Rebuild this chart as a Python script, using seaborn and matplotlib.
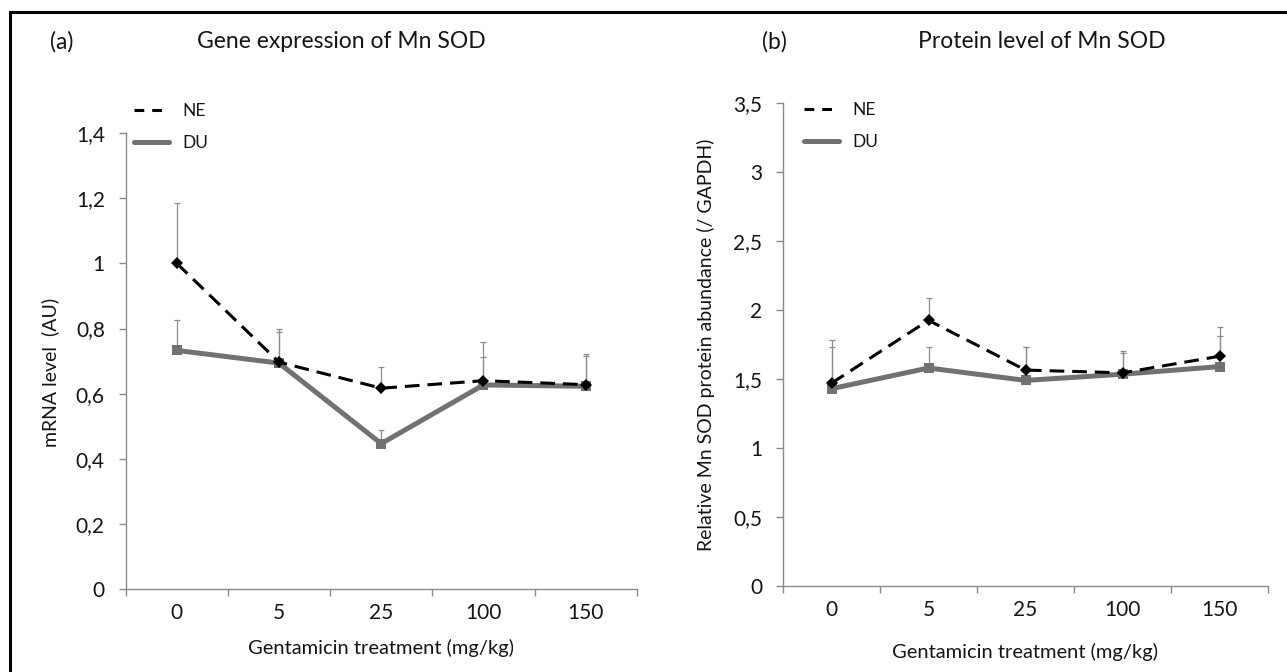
import numpy as np
import pandas as pd
import matplotlib
matplotlib.use("Agg")
import matplotlib.pyplot as plt
from matplotlib.lines import Line2D
from matplotlib.patches import Rectangle
from matplotlib.ticker import FuncFormatter, FixedLocator
import seaborn as sns

# ---- data ----
doses = ["0", "5", "25", "100", "150"]

mrna_ne = [1.0, 0.697, 0.617, 0.64, 0.628]
mrna_ne_err = [0.185, 0.103, 0.066, 0.118, 0.094]
mrna_du = [0.733, 0.694, 0.447, 0.627, 0.623]
mrna_du_err = [0.094, 0.096, 0.041, 0.085, 0.092]

prot_ne = [1.47, 1.925, 1.565, 1.545, 1.665]
prot_ne_err = [0.31, 0.165, 0.17, 0.155, 0.21]
prot_du = [1.43, 1.58, 1.49, 1.535, 1.59]
prot_du_err = [0.30, 0.15, 0.24, 0.155, 0.22]

W, H = 1287, 672
sns.set_style("white")
plt.rcParams["font.family"] = ["Lato", "DejaVu Sans"]

AXIS_GREY = "#8a8a8a"
DU_GREY = "#717171"
TEXT = "#151515"

fig = plt.figure(figsize=(W / 100, H / 100), dpi=100)
fig.patch.set_facecolor("white")


def px_rect(x0, x1, y_bottom, y_top):
    return [x0 / W, (H - y_bottom) / H, (x1 - x0) / W, (y_bottom - y_top) / H]


ax_a = fig.add_axes(px_rect(125.7, 636.7, 589.3, 133.0))
ax_b = fig.add_axes(px_rect(783.0, 1268.0, 586.3, 102.7))

styles = {
    "NE": dict(color="black", lw=2.2, dashes=(4.8, 2.6), marker="D", ms=6.5),
    "DU": dict(color=DU_GREY, lw=3.6, dashes=None, marker="s", ms=7.5),
}


def draw_panel(ax, ne, ne_err, du, du_err, ymax, ystep):
    df = pd.DataFrame({
        "dose": doses * 2,
        "value": list(du) + list(ne),
        "group": ["DU"] * len(doses) + ["NE"] * len(doses),
    })
    # upper-only error bars, thin grey
    for vals, errs in ((du, du_err), (ne, ne_err)):
        ax.errorbar(doses, vals, yerr=[np.zeros(len(vals)), errs], fmt="none",
                    ecolor="#8c8c8c", elinewidth=0.9, capsize=2, capthick=0.9,
                    zorder=1)
    for grp, z in (("DU", 2), ("NE", 3)):
        st = styles[grp]
        sub = df[df["group"] == grp]
        sns.lineplot(data=sub, x="dose", y="value", ax=ax, color=st["color"],
                     linewidth=st["lw"], marker=st["marker"],
                     markersize=st["ms"], markeredgewidth=0, sort=False,
                     zorder=z, legend=False)
        ln = ax.get_lines()[-1]
        if st["dashes"] is not None:
            ln.set_dashes(st["dashes"])
    ax.set_xlim(-0.5, len(doses) - 0.5)
    ax.set_ylim(0, ymax)
    ax.yaxis.set_major_locator(FixedLocator(np.arange(0, ymax + 1e-9, ystep)))
    ax.yaxis.set_major_formatter(
        FuncFormatter(lambda v, p: f"{round(v, 2):g}".replace(".", ",")))
    ax.xaxis.set_minor_locator(FixedLocator(np.arange(-0.5, len(doses), 1.0)))
    for s in ("top", "right"):
        ax.spines[s].set_visible(False)
    for s in ("left", "bottom"):
        ax.spines[s].set_color(AXIS_GREY)
        ax.spines[s].set_linewidth(1.0)
    ax.tick_params(axis="x", which="major", length=0, pad=10,
                   labelsize=15, labelcolor=TEXT)
    ax.tick_params(axis="x", which="minor", length=5, width=1.0,
                   color=AXIS_GREY, direction="out", bottom=True)
    ax.tick_params(axis="y", which="major", length=5, width=1.0,
                   color=AXIS_GREY, direction="out", left=True, pad=10,
                   labelsize=15, labelcolor=TEXT)
    ax.set_xlabel("")
    ax.set_ylabel("")
    ax.grid(False)


draw_panel(ax_a, mrna_ne, mrna_ne_err, mrna_du, mrna_du_err, 1.4, 0.2)
draw_panel(ax_b, prot_ne, prot_ne_err, prot_du, prot_du_err, 3.5, 0.5)

# axis titles
fig.text(381 / W, 1 - 648 / H, "Gentamicin treatment (mg/kg)", ha="center",
         va="center", fontsize=14.5, color=TEXT)
fig.text(1025 / W, 1 - 652 / H, "Gentamicin treatment (mg/kg)", ha="center",
         va="center", fontsize=14.5, color=TEXT)
fig.text(50 / W, 1 - 372 / H, "mRNA level  (AU)", ha="center", va="center",
         rotation=90, fontsize=14, color=TEXT)
fig.text(706 / W, 1 - 345 / H, "Relative Mn SOD protein abundance (/ GAPDH)",
         ha="center", va="center", rotation=90, fontsize=14, color=TEXT)

# panel titles
fig.text(50 / W, 1 - 42 / H, "(a)", ha="left", va="center", fontsize=16.5, color=TEXT)
fig.text(197 / W, 1 - 42 / H, "Gene expression of Mn SOD", ha="left",
         va="center", fontsize=16.5, color=TEXT)
fig.text(762 / W, 1 - 42 / H, "(b)", ha="left", va="center", fontsize=16.5, color=TEXT)
fig.text(918 / W, 1 - 42 / H, "Protein level of Mn SOD", ha="left",
         va="center", fontsize=16.5, color=TEXT)

# legends
handles = [
    Line2D([], [], color="black", lw=2.2, dashes=(3.2, 2.6)),
    Line2D([], [], color=DU_GREY, lw=3.6),
]
for ax, (lx, ly) in ((ax_a, (127, 96)), (ax_b, (797, 95))):
    ax.legend(handles, ["NE", "DU"], loc="upper left",
              bbox_to_anchor=(lx / W, 1 - ly / H), bbox_transform=fig.transFigure,
              frameon=False, fontsize=12.5, handlelength=2.0, handletextpad=0.8,
              labelspacing=0.95, borderaxespad=0, borderpad=0.4,
              labelcolor=TEXT)

# outer frame
fig.add_artist(Rectangle((10 / W, -0.05), 1.2, (1 - 11.7 / H) + 0.05,
                         transform=fig.transFigure, fill=False,
                         edgecolor="black", linewidth=2.2, clip_on=False))

fig.savefig("out.png", dpi=100, facecolor="white")
